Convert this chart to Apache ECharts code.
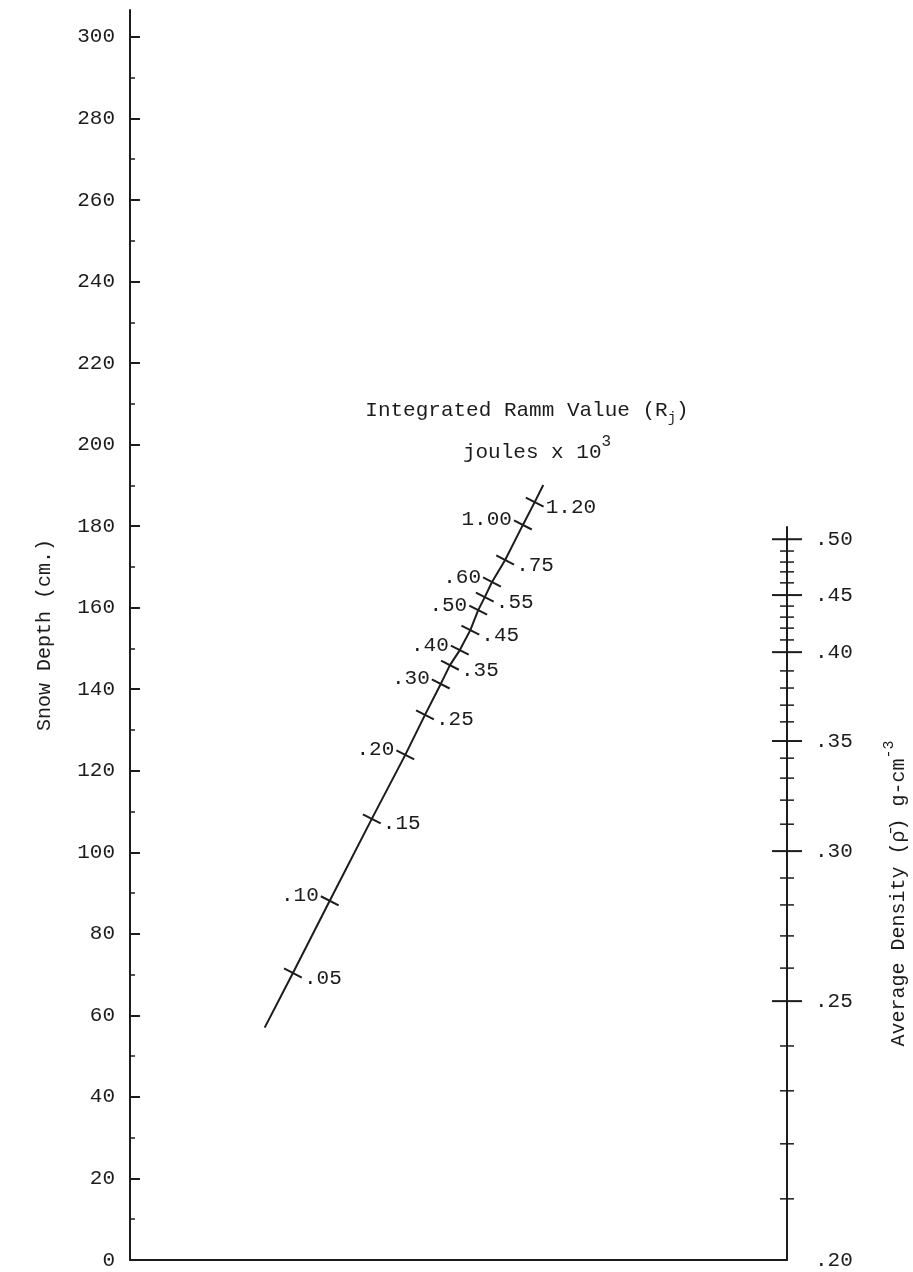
<!DOCTYPE html>
<html>
<head>
<meta charset="utf-8">
<title>Snow depth / Ramm value / density nomogram</title>
<script src="https://cdn.jsdelivr.net/npm/echarts@6/dist/echarts.min.js"></script>
<style>
  html, body { margin: 0; padding: 0; background: #fff; }
  #main { width: 913px; height: 1272px; }
</style>
</head>
<body>
<div id="main"></div>
<script>
// left scale: snow depth (cm)
const depthLabels = [0, 20, 40, 60, 80, 100, 120, 140, 160, 180, 200, 220, 240, 260, 280, 300];
const depthMinor = [10, 30, 50, 70, 90, 110, 130, 150, 170, 190, 210, 230, 250, 270, 290];

// middle scale: integrated Ramm value, joules x 10^3
// x = % of plot width, depth = height on the snow depth scale (cm)
const rammValues = [0.05, 0.10, 0.15, 0.20, 0.25, 0.30, 0.35, 0.40, 0.45, 0.50, 0.55, 0.60, 0.75, 1.00, 1.20];
const rammX = [24.8, 30.4, 36.8, 41.9, 44.9, 47.3, 48.7, 50.2, 51.8, 53.0, 54.0, 55.1, 57.1, 59.8, 61.6];
const rammDepth = [70.4, 88.1, 108.2, 123.9, 133.7, 141.3, 145.9, 149.6, 154.5, 159.4, 162.6, 166.3, 171.7, 180.3, 185.9];
// the drawn line runs a little past the first and last tick
const rammEndX = [20.5, 62.9];
const rammEndDepth = [57.0, 190.1];

// right scale: average density g/cm3, placed at heights of the snow depth scale (cm)
const densityValues = [0.20, 0.21, 0.22, 0.23, 0.24, 0.25, 0.26, 0.27, 0.28, 0.29,
                       0.30, 0.31, 0.32, 0.33, 0.34, 0.35, 0.36, 0.37, 0.38, 0.39,
                       0.40, 0.41, 0.42, 0.43, 0.44, 0.45, 0.46, 0.47, 0.48, 0.49, 0.50];
const densityPos = [0, 15.0, 28.5, 41.5, 52.5, 63.5, 71.6, 79.5, 87.1, 93.7,
                    100.3, 106.9, 112.8, 118.2, 123.1, 127.3, 132.0, 136.1, 140.3, 144.5,
                    149.1, 152.1, 155.0, 157.7, 160.4, 163.1, 166.1, 168.8, 171.2, 173.9, 176.8];

const FONT = '"Liberation Mono", "Courier New", monospace';
const INK = '#1c1c1c';

const fmt = v => v < 1 ? '.' + v.toFixed(2).slice(2) : v.toFixed(2);
const isMajor = v => Math.round(v * 100) % 5 === 0;

const rammLine = [[rammEndX[0], rammEndDepth[0]]]
  .concat(rammX.map((x, i) => [x, rammDepth[i]]))
  .concat([[rammEndX[1], rammEndDepth[1]]]);

const densityLabelPos = densityPos.filter((p, i) => isMajor(densityValues[i]));

let chart = echarts.init(document.getElementById('main'));

chart.setOption({
  animation: false,
  backgroundColor: '#fff',
  grid: [
    { left: 130, right: 126, top: 10, bottom: 12, containLabel: false, outerBoundsMode: 'none' },
    { left: 130, right: 126, top: 527, bottom: 12, containLabel: false, outerBoundsMode: 'none' }
  ],
  xAxis: [
    {
      gridIndex: 0, type: 'value', min: 0, max: 100,
      axisLine: { show: true, onZero: false, lineStyle: { color: INK, width: 2 } },
      axisTick: { show: false }, axisLabel: { show: false }, splitLine: { show: false }
    },
    { gridIndex: 1, type: 'value', min: 0, max: 100, show: false }
  ],
  yAxis: [
    {
      gridIndex: 0, type: 'value', min: 0, max: 306.6, position: 'left',
      name: 'Snow Depth (cm.)', nameLocation: 'middle', nameRotate: 90, nameGap: 75,
      nameTextStyle: { fontFamily: FONT, fontSize: 20, color: INK },
      axisLine: { show: true, onZero: false, lineStyle: { color: INK, width: 2 } },
      axisTick: { show: true, inside: true, length: 10, customValues: depthLabels, lineStyle: { color: INK, width: 2 } },
      axisLabel: { customValues: depthLabels, margin: 15, fontFamily: FONT, fontSize: 21, color: INK },
      splitLine: { show: false }
    },
    {
      gridIndex: 0, type: 'value', min: 0, max: 306.6, position: 'left',
      axisLine: { show: false, onZero: false },
      axisTick: { show: true, inside: true, length: 5, customValues: depthMinor, lineStyle: { color: INK, width: 1.5 } },
      axisLabel: { show: false }, splitLine: { show: false }
    },
    {
      gridIndex: 1, type: 'value', min: 0, max: 179.8, position: 'right',
      name: 'Average Density (\u03c1\u0304) g-cm{sup|-3}', nameLocation: 'middle', nameRotate: 90, nameGap: 95,
      nameTextStyle: {
        fontFamily: FONT, fontSize: 20, color: INK, lineHeight: 34,
        rich: { sup: { fontFamily: FONT, fontSize: 15, color: INK, verticalAlign: 'top', lineHeight: 15 } }
      },
      axisLine: { show: true, onZero: false, lineStyle: { color: INK, width: 2 } },
      axisTick: { show: false },
      axisLabel: {
        customValues: densityLabelPos, margin: 28, fontFamily: FONT, fontSize: 21, color: INK,
        formatter: v => fmt(densityValues[densityPos.indexOf(v)])
      },
      splitLine: { show: false }
    }
  ],
  graphic: [
    {
      type: 'text', x: 527, y: 410,
      style: {
        text: 'Integrated Ramm Value (R{sub|j})',
        fontFamily: FONT, fontSize: 21, fill: INK, lineHeight: 30,
        align: 'center', verticalAlign: 'middle', textAlign: 'center', textVerticalAlign: 'middle',
        rich: { sub: { fontFamily: FONT, fontSize: 14, fill: INK, color: INK, verticalAlign: 'bottom', lineHeight: 14 } }
      }
    },
    {
      type: 'text', x: 537, y: 452,
      style: {
        text: 'joules x 10{sup|3}',
        fontFamily: FONT, fontSize: 21, fill: INK, lineHeight: 36,
        align: 'center', verticalAlign: 'middle', textAlign: 'center', textVerticalAlign: 'middle',
        rich: { sup: { fontFamily: FONT, fontSize: 16, fill: INK, color: INK, verticalAlign: 'top', lineHeight: 16 } }
      }
    }
  ],
  series: [
    {
      type: 'line', xAxisIndex: 0, yAxisIndex: 0,
      data: rammLine, symbol: 'none', silent: true,
      lineStyle: { color: INK, width: 2 }
    },
    {
      type: 'custom', xAxisIndex: 0, yAxisIndex: 0, silent: true,
      data: rammValues.map((v, i) => [rammX[i], rammDepth[i], v, i]),
      renderItem: function (params, api) {
        const p = api.coord([api.value(0), api.value(1)]);
        const a = api.coord([rammEndX[0], rammEndDepth[0]]);
        const b = api.coord([rammEndX[1], rammEndDepth[1]]);
        const dx = b[0] - a[0], dy = b[1] - a[1];
        const len = Math.sqrt(dx * dx + dy * dy);
        const nx = -dy / len, ny = dx / len;
        const h = 10;
        const i = api.value(3);
        const right = i % 2 === 0;
        return {
          type: 'group',
          children: [
            {
              type: 'line',
              shape: { x1: p[0] - nx * h, y1: p[1] - ny * h, x2: p[0] + nx * h, y2: p[1] + ny * h },
              style: { stroke: INK, lineWidth: 2 }
            },
            {
              type: 'text',
              style: {
                text: fmt(api.value(2)),
                x: right ? p[0] + 11 : p[0] - 11,
                y: right ? p[1] + 5 : p[1] - 5,
                fontFamily: FONT, fontSize: 21, fill: INK,
                align: right ? 'left' : 'right', textAlign: right ? 'left' : 'right',
                verticalAlign: 'middle', textVerticalAlign: 'middle'
              }
            }
          ]
        };
      }
    },
    {
      type: 'custom', xAxisIndex: 1, yAxisIndex: 2, silent: true,
      data: densityValues.map((v, i) => [100, densityPos[i], v]),
      renderItem: function (params, api) {
        // the .20 mark sits on the corner with the base line, no cross tick there
        if (api.value(1) === 0) return null;
        const p = api.coord([api.value(0), api.value(1)]);
        const major = isMajor(api.value(2));
        const h = major ? 15 : 7;
        return {
          type: 'line',
          shape: { x1: p[0] - h, y1: p[1], x2: p[0] + h, y2: p[1] },
          style: { stroke: INK, lineWidth: major ? 2 : 1.5 }
        };
      }
    }
  ]
});
</script>
</body>
</html>
